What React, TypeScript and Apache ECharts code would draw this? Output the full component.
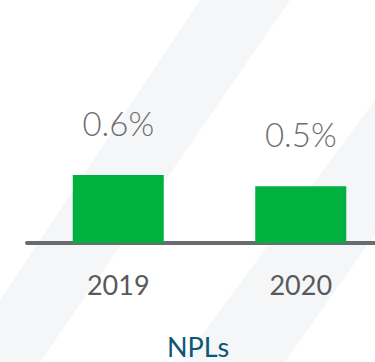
import React, { useEffect, useRef } from "react";
import * as echarts from "echarts";

const categories = ["2019", "2020"];
const nplValues = [0.6, 0.5];
const valueLabels = ["0.6%", "0.5%"];
const chartTitle = "NPLs";

export default function App() {
  const ref = useRef<HTMLDivElement>(null);

  useEffect(() => {
    if (!ref.current) return;
    const chart = echarts.init(ref.current, null, { renderer: "svg" });
    const band = "#f5f6f7";
    chart.setOption({
      animation: false,
      backgroundColor: "#ffffff",
      graphic: [
        {
          type: "polygon",
          z: -10,
          silent: true,
          shape: { points: [[200, 0], [290, 0], [40, 362], [0, 362], [0, 300]] },
          style: { fill: band },
        },
        {
          type: "polygon",
          z: -10,
          silent: true,
          shape: { points: [[375, 100], [392, 100], [392, 210], [285, 362], [182, 362]] },
          style: { fill: band },
        },
      ],
      title: {
        text: chartTitle,
        left: 162,
        top: 328,
        textStyle: {
          fontFamily: "Lato",
          fontWeight: 400,
          fontSize: 27,
          color: "#0c5676",
        },
      },
      grid: { left: 27, right: 0, top: 73, height: 170 },
      xAxis: {
        type: "category",
        data: categories,
        axisLine: { show: true, lineStyle: { color: "#686b6f", width: 4 } },
        axisTick: { show: false },
        axisLabel: {
          margin: 28,
          fontFamily: "Lato",
          fontSize: 27,
          color: "#58595b",
        },
      },
      yAxis: {
        type: "value",
        min: 0,
        max: 1.5,
        show: false,
        splitLine: { show: false },
      },
      series: [
        {
          type: "bar",
          data: nplValues,
          barWidth: 91,
          itemStyle: { color: "#00b140" },
          label: {
            show: true,
            position: "top",
            distance: 36,
            fontFamily: "Lato",
            fontWeight: 300,
            fontSize: 33,
            color: "#6d6e71",
            formatter: (p: any) => valueLabels[p.dataIndex],
          },
        },
      ],
    });
    return () => chart.dispose();
  }, []);

  return (
    <div
      style={{
        position: "absolute",
        left: 0,
        top: 0,
        width: 375,
        height: 362,
        overflow: "hidden",
      }}
    >
      <div ref={ref} style={{ width: 392, height: 362 }} />
    </div>
  );
}
